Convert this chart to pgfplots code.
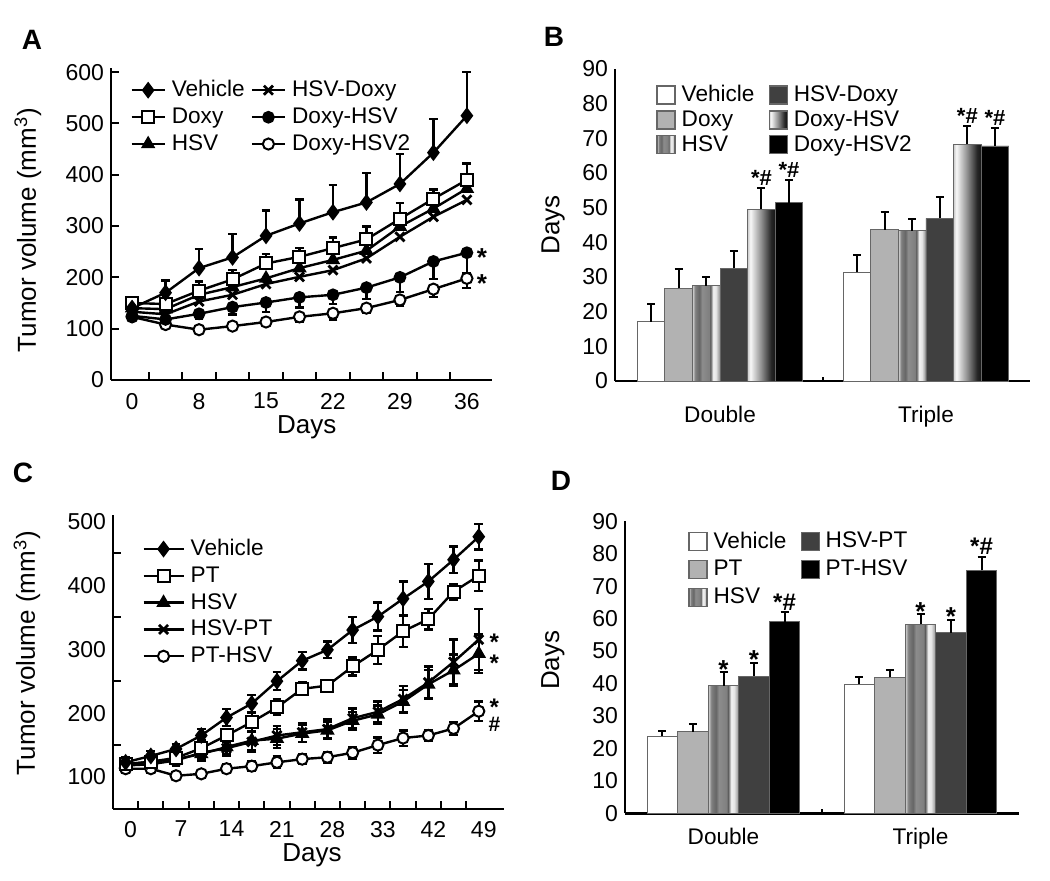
\documentclass[border=0pt]{standalone}
\usepackage{fontspec}
\setmainfont{Liberation Sans}
\usepackage{pgfplots}
\pgfplotsset{compat=1.18}
\newcommand\fs[1]{\fontsize{#1}{#1}\selectfont}

% grey levels for the two shaded bar types
\definecolor{sA}{gray}{0.85}\definecolor{sB}{gray}{0.50}\definecolor{sC}{gray}{0.40}
\definecolor{sD}{gray}{0.55}\definecolor{sF}{gray}{0.35}\definecolor{sG}{gray}{0.95}
\definecolor{sH}{gray}{0.90}
\definecolor{fA}{gray}{0.80}\definecolor{fB}{gray}{0.97}\definecolor{fC}{gray}{0.55}
\definecolor{fD}{gray}{0.15}\definecolor{fE}{gray}{0.08}
\definecolor{barlt}{gray}{0.70}\definecolor{bardk}{gray}{0.25}

\pgfdeclarehorizontalshading{hsvstripe}{100bp}{%
  color(0bp)=(sA); color(25bp)=(sA); color(30bp)=(sB); color(37.5bp)=(sC);
  color(42.5bp)=(sD); color(55bp)=(sB); color(57.5bp)=(sF); color(62.5bp)=(sG);
  color(67.5bp)=(sH); color(75bp)=(sD); color(100bp)=(sD)}
\pgfdeclarehorizontalshading{fadebw}{100bp}{%
  color(0bp)=(fA); color(25bp)=(fA); color(30bp)=(fB); color(50bp)=(fC);
  color(67.5bp)=(fD); color(75bp)=(fE); color(100bp)=(fE)}

\tikzset{
  star/.style={font=\bfseries\fs{13}, anchor=south, inner sep=0pt, yshift=-3pt},
  starhash/.style={font=\bfseries\fs{11}, anchor=south, inner sep=1pt},
  sidestar/.style={font=\bfseries\fs{13}, anchor=center, yshift=-2.5pt},
}

\pgfplotsset{
  /pgf/number format/assume math mode=true,
  panel/.style={scale only axis, anchor=south west, clip=false,
    axis x line*=bottom, axis y line*=left,
    axis line style={line width=1.3pt}, tick align=inside,
    tick style={line width=1pt, black},
    major tick length=4pt, minor tick length=4pt,
    legend cell align=left,
    tick label style={font=\fs{11.5}}, label style={font=\fs{13}}},
  lineleg/.style={legend image code/.code={\draw[mark repeat=2,mark phase=2,##1]
      plot coordinates {(0pt,0pt) (#1,0pt) (2*#1,0pt)};}},
  sqleg/.style={legend image code/.code={\draw[##1,line width=0.6pt] (0pt,-4.5pt) rectangle (9pt,4.5pt);}},
  lsty/.style={black, line width=1.2pt},
  mVeh/.style={lsty, mark=diamond*, mark size=3.6pt, mark options={solid, fill=black, line width=0.8pt}},
  mSq/.style={lsty, mark=square*, mark size=3pt, mark options={solid, fill=white, line width=1pt}},
  mTri/.style={lsty, mark=triangle*, mark size=3.4pt, mark options={solid, fill=black, line width=0.8pt}},
  mX/.style={lsty, mark=x, mark size=3.2pt, mark options={solid, line width=1.4pt}},
  mDot/.style={lsty, mark=*, mark size=2.8pt, mark options={solid, fill=black, line width=0.8pt}},
  mCirc/.style={lsty, mark=*, mark size=2.8pt, mark options={solid, fill=white, line width=1pt}},
  lerr/.style={error bars/y dir=#1, error bars/y explicit,
    error bars/error mark=-,
    error bars/error bar style={line width=1.2pt, black},
    error bars/error mark options={rotate=90, line width=1.2pt, mark size=2.2pt, black}},
  bVeh/.style={fill=white, draw=black!60},
  bDox/.style={fill=barlt, draw=black!60},
  bHSV/.style={shading=hsvstripe, shade, draw=black!60},
  bHD/.style={fill=bardk, draw=black!60},
  bDH/.style={shading=fadebw, shade, draw=black!60},
  bBlk/.style={fill=black, draw=black!60},
  berr/.style={error bars/y dir=plus, error bars/y explicit,
    error bars/error mark=-,
    error bars/error bar style={line width=1pt, black},
    error bars/error mark options={rotate=90, line width=1pt, mark size=2pt, black}},
}

\begin{document}
\begin{tikzpicture}
\path[use as bounding box] (0,0) rectangle (525pt,440.5pt);

\node[font=\bfseries\fs{14}] at (16pt,420.5pt) {A};
\node[font=\bfseries\fs{14}] at (277pt,422pt) {B};
\node[font=\bfseries\fs{14}] at (11.5pt,204pt) {C};
\node[font=\bfseries\fs{14}] at (280.5pt,200pt) {D};

% ---------------- A ----------------
\begin{axis}[panel, at={(55.5pt,250.5pt)},
  width=190.5pt, height=156pt,
  xmin=-0.63, xmax=10.75, ymin=0, ymax=608,
  xtick={0,2,...,10}, xticklabels={0,8,15,22,29,36},
  major x tick style={draw=none}, minor xtick={0.5,1.5,...,9.5},
  ytick={0,100,...,600},
  xticklabel style={yshift=-3pt},
  ylabel={Tumor volume (mm\textsuperscript{3})}, xlabel={Days},
  ylabel style={at={(axis description cs:-0.218,0.48)}, anchor=center},
  xlabel style={at={(axis description cs:0.514,-0.15)}, anchor=center},
  lineleg=8.25pt,
  legend columns=2,
  legend style={draw=none, fill=none, at={(0.05,0.974)}, anchor=north west,
    font=\fs{11.3}, inner sep=0pt, row sep=0pt, column sep=1pt,
    /tikz/every even column/.append style={column sep=1pt}},
]
\addplot[mCirc, lerr=minus, forget plot] coordinates {
 (0,123) +- (0,5) (1,108) +- (0,5) (2,98) +- (0,6) (3,105) +- (0,6)
 (4,113) +- (0,8) (5,123) +- (0,10) (6,130) +- (0,12) (7,140) +- (0,10)
 (8,156) +- (0,12) (9,177) +- (0,15) (10,198) +- (0,19)};
\addplot[mDot, lerr=minus, forget plot] coordinates {
 (0,125) +- (0,5) (1,118) +- (0,8) (2,129) +- (0,10) (3,142) +- (0,14)
 (4,151) +- (0,18) (5,161) +- (0,20) (6,166) +- (0,18) (7,180) +- (0,22)
 (8,200) +- (0,28) (9,231) +- (0,34) (10,248) +- (0,39)};
\addplot[mX, forget plot] coordinates {
 (0,133) (1,128) (2,153) (3,166) (4,187) (5,201) (6,214) (7,237) (8,279) (9,318) (10,351)};
\addplot[mTri, forget plot] coordinates {
 (0,140) (1,138) (2,166) (3,181) (4,198) (5,218) (6,234) (7,252) (8,299) (9,334) (10,373)};
\addplot[mSq, lerr=plus, forget plot] coordinates {
 (0,150) +- (0,8) (1,148) +- (0,8) (2,174) +- (0,18) (3,196) +- (0,18)
 (4,227) +- (0,19) (5,240) +- (0,17) (6,257) +- (0,21) (7,274) +- (0,25)
 (8,314) +- (0,31) (9,353) +- (0,18) (10,390) +- (0,32)};
\addplot[mVeh, lerr=plus, forget plot] coordinates {
 (0,140) +- (0,10) (1,170) +- (0,24) (2,218) +- (0,37) (3,239) +- (0,46)
 (4,281) +- (0,49) (5,305) +- (0,47) (6,327) +- (0,53) (7,346) +- (0,57)
 (8,382) +- (0,58) (9,443) +- (0,65) (10,515) +- (0,85)};
\addlegendimage{mVeh}\addlegendentry{Vehicle}
\addlegendimage{mX}\addlegendentry{HSV-Doxy}
\addlegendimage{mSq}\addlegendentry{Doxy}
\addlegendimage{mDot}\addlegendentry{Doxy-HSV}
\addlegendimage{mTri}\addlegendentry{HSV}
\addlegendimage{mCirc}\addlegendentry{Doxy-HSV2}
\node[sidestar] at (axis cs:10.45,249) {*};
\node[sidestar] at (axis cs:10.45,198) {*};
\end{axis}

% ---------------- B ----------------
% bars sit at group index + offset (offsets -0.335 ... 0.335);
% shaded bars get one plot per bar so that each is shaded on its own
\begin{axis}[panel, at={(307.5pt,250pt)},
  width=207.5pt, height=156pt,
  xmin=-0.51, xmax=1.505, ymin=0, ymax=90,
  xtick={0,1}, xticklabels={Double,Triple},
  major x tick style={draw=none}, minor xtick={0.5}, minor tick length=2pt,
  ytick={0,10,...,90}, major y tick style={draw=none},
  xticklabel style={yshift=-9pt, font=\fs{11.3}},
  ylabel={Days},
  ylabel style={at={(axis description cs:-0.149,0.5)}, anchor=center},
  sqleg,
  legend columns=2,
  legend style={draw=none, fill=none, at={(0.099,0.962)}, anchor=north west,
    font=\fs{11.3}, inner sep=0pt, row sep=-1pt, column sep=1pt,
    /tikz/every even column/.append style={column sep=5pt}},
]
\addplot[ybar, bar width=0.134, bar shift=0, bVeh, berr, forget plot]
  coordinates {(-0.335,17.1) +- (0,5.0) (0.665,31.3) +- (0,5.0)};
\addplot[ybar, bar width=0.134, bar shift=0, bDox, berr, forget plot]
  coordinates {(-0.201,26.7) +- (0,5.6) (0.799,43.6) +- (0,5.1)};
\addplot[ybar, bar width=0.134, bar shift=0, bHSV, berr, forget plot]
  coordinates {(-0.067,27.5) +- (0,2.4)};
\addplot[ybar, bar width=0.134, bar shift=0, bHSV, berr, forget plot]
  coordinates {(0.933,43.4) +- (0,3.3)};
\addplot[ybar, bar width=0.134, bar shift=0, bHD, berr, forget plot]
  coordinates {(0.067,32.5) +- (0,5.1) (1.067,46.9) +- (0,6.3)};
\addplot[ybar, bar width=0.134, bar shift=0, bDH, berr, forget plot]
  coordinates {(0.201,49.6) +- (0,6.2)};
\addplot[ybar, bar width=0.134, bar shift=0, bDH, berr, forget plot]
  coordinates {(1.201,68.3) +- (0,5.4)};
\addplot[ybar, bar width=0.134, bar shift=0, bBlk, berr, forget plot]
  coordinates {(0.335,51.4) +- (0,6.6) (1.335,67.8) +- (0,5.1)};
\addlegendimage{bVeh}\addlegendentry{Vehicle}
\addlegendimage{bHD}\addlegendentry{HSV-Doxy}
\addlegendimage{bDox}\addlegendentry{Doxy}
\addlegendimage{bDH}\addlegendentry{Doxy-HSV}
\addlegendimage{bHSV}\addlegendentry{HSV}
\addlegendimage{bBlk}\addlegendentry{Doxy-HSV2}
\node[starhash] at (axis cs:0.201,55.8) {*\#};
\node[starhash] at (axis cs:0.335,58.0) {*\#};
\node[starhash] at (axis cs:1.201,73.7) {*\#};
\node[starhash] at (axis cs:1.335,72.9) {*\#};
\end{axis}

% ---------------- C ----------------
\begin{axis}[panel, at={(56.5pt,36pt)},
  width=195.5pt, height=147pt,
  xmin=-0.5, xmax=15, ymin=50, ymax=510,
  xtick={0,2,...,14}, xticklabels={0,7,14,21,28,33,42,49},
  major x tick style={draw=none}, minor xtick={0.5,1.5,...,13.5},
  ytick={100,200,...,500}, major y tick style={draw=none},
  minor ytick={150,250,350,450},
  xticklabel style={yshift=-2.5pt, xshift=2.5pt},
  ylabel={Tumor volume (mm\textsuperscript{3})}, xlabel={Days},
  ylabel style={at={(axis description cs:-0.22,0.53)}, anchor=center},
  xlabel style={at={(axis description cs:0.509,-0.158)}, anchor=center},
  lineleg=10pt,
  legend style={draw=none, fill=none, at={(0.074,0.932)}, anchor=north west,
    font=\fs{11.3}, inner sep=0pt, row sep=0pt, column sep=1pt},
]
\addplot[mCirc, lerr=both, forget plot] coordinates {
 (0,113) +- (0,6) (1,113) +- (0,7) (2,102) +- (0,4) (3,105) +- (0,6)
 (4,113) +- (0,7) (5,117) +- (0,8) (6,123) +- (0,9) (7,128) +- (0,8)
 (8,131) +- (0,8) (9,138) +- (0,9) (10,150) +- (0,12) (11,161) +- (0,12)
 (12,165) +- (0,9) (13,176) +- (0,10) (14,203) +- (0,15)};
\addplot[mX, lerr=both, forget plot] coordinates {
 (0,118) +- (0,8) (1,120) +- (0,8) (2,126) +- (0,8) (3,138) +- (0,10)
 (4,145) +- (0,12) (5,155) +- (0,15) (6,165) +- (0,15) (7,170) +- (0,15)
 (8,175) +- (0,15) (9,192) +- (0,15) (10,202) +- (0,16) (11,222) +- (0,20)
 (12,248) +- (0,25) (13,280) +- (0,35) (14,315) +- (0,48)};
\addplot[mTri, lerr=both, forget plot] coordinates {
 (0,120) +- (0,8) (1,124) +- (0,8) (2,128) +- (0,8) (3,136) +- (0,10)
 (4,147) +- (0,12) (5,157) +- (0,15) (6,160) +- (0,15) (7,168) +- (0,13)
 (8,173) +- (0,13) (9,188) +- (0,14) (10,198) +- (0,14) (11,218) +- (0,18)
 (12,245) +- (0,22) (13,267) +- (0,25) (14,293) +- (0,30)};
\addplot[mSq, lerr=both, forget plot] coordinates {
 (0,120) +- (0,8) (1,124) +- (0,8) (2,130) +- (0,10) (3,145) +- (0,12)
 (4,165) +- (0,10) (5,186) +- (0,15) (6,209) +- (0,12) (7,238) +- (0,10)
 (8,243) +- (0,6) (9,273) +- (0,14) (10,299) +- (0,22) (11,328) +- (0,25)
 (12,347) +- (0,16) (13,390) +- (0,12) (14,415) +- (0,24)};
\addplot[mVeh, lerr=both, forget plot] coordinates {
 (0,123) +- (0,8) (1,133) +- (0,8) (2,144) +- (0,8) (3,165) +- (0,10)
 (4,193) +- (0,13) (5,215) +- (0,13) (6,250) +- (0,14) (7,282) +- (0,14)
 (8,299) +- (0,13) (9,330) +- (0,20) (10,351) +- (0,22) (11,379) +- (0,27)
 (12,406) +- (0,27) (13,440) +- (0,21) (14,476) +- (0,20)};
\addlegendimage{mVeh}\addlegendentry{Vehicle}
\addlegendimage{mSq}\addlegendentry{PT}
\addlegendimage{mTri}\addlegendentry{HSV}
\addlegendimage{mX}\addlegendentry{HSV-PT}
\addlegendimage{mCirc}\addlegendentry{PT-HSV}
\node[sidestar, font=\bfseries\fs{12}] at (axis cs:14.62,318) {*};
\node[sidestar, font=\bfseries\fs{12}] at (axis cs:14.62,286) {*};
\node[sidestar, font=\bfseries\fs{12}] at (axis cs:14.62,217) {*};
\node[font=\bfseries\fs{10.5}, anchor=center] at (axis cs:14.62,182) {\#};
\end{axis}

% ---------------- D ----------------
% bars sit at group index + offset (offsets -0.31 ... 0.31)
\begin{axis}[panel, at={(312.5pt,33.85pt)},
  width=197pt, height=146pt,
  xmin=-0.5, xmax=1.5, ymin=0, ymax=90,
  xtick={0,1}, xticklabels={Double,Triple},
  major x tick style={draw=none}, minor xtick={0.5}, minor tick length=2pt,
  ytick={0,10,...,90}, major y tick style={draw=none},
  xticklabel style={yshift=-4pt, font=\fs{11.3}},
  ylabel={Days},
  ylabel style={at={(axis description cs:-0.183,0.524)}, anchor=center},
  sqleg,
  legend columns=2,
  legend style={draw=none, fill=none, at={(0.16,0.979)}, anchor=north west,
    font=\fs{11.3}, inner sep=0pt, row sep=0.5pt, column sep=1pt,
    /tikz/every even column/.append style={column sep=5pt}},
]
\addplot[ybar, bar width=0.155, bar shift=0, bVeh, berr, forget plot]
  coordinates {(-0.31,23.8) +- (0,1.7) (0.69,39.8) +- (0,2.1)};
\addplot[ybar, bar width=0.155, bar shift=0, bDox, berr, forget plot]
  coordinates {(-0.155,25.2) +- (0,2.2) (0.845,41.9) +- (0,2.2)};
\addplot[ybar, bar width=0.155, bar shift=0, bHSV, berr, forget plot]
  coordinates {(0,39.3) +- (0,4.1)};
\addplot[ybar, bar width=0.155, bar shift=0, bHSV, berr, forget plot]
  coordinates {(1,58.2) +- (0,3.1)};
\addplot[ybar, bar width=0.155, bar shift=0, bHD, berr, forget plot]
  coordinates {(0.155,42.3) +- (0,3.9) (1.155,55.7) +- (0,3.8)};
\addplot[ybar, bar width=0.155, bar shift=0, bBlk, berr, forget plot]
  coordinates {(0.31,59.0) +- (0,2.9) (1.31,74.9) +- (0,4.2)};
\addlegendimage{bVeh}\addlegendentry{Vehicle}
\addlegendimage{bHD}\addlegendentry{HSV-PT}
\addlegendimage{bDox}\addlegendentry{PT}
\addlegendimage{bBlk}\addlegendentry{PT-HSV}
\addlegendimage{bHSV}\addlegendentry{HSV}
\node[star] at (axis cs:0,43.4) {*};
\node[star] at (axis cs:0.155,46.2) {*};
\node[star] at (axis cs:1,61.3) {*};
\node[star] at (axis cs:1.155,59.5) {*};
\node[starhash, font=\bfseries\fs{12}] at (axis cs:0.31,61.9) {*\#};
\node[starhash, font=\bfseries\fs{12}] at (axis cs:1.31,79.1) {*\#};
\end{axis}
\end{tikzpicture}
\end{document}
